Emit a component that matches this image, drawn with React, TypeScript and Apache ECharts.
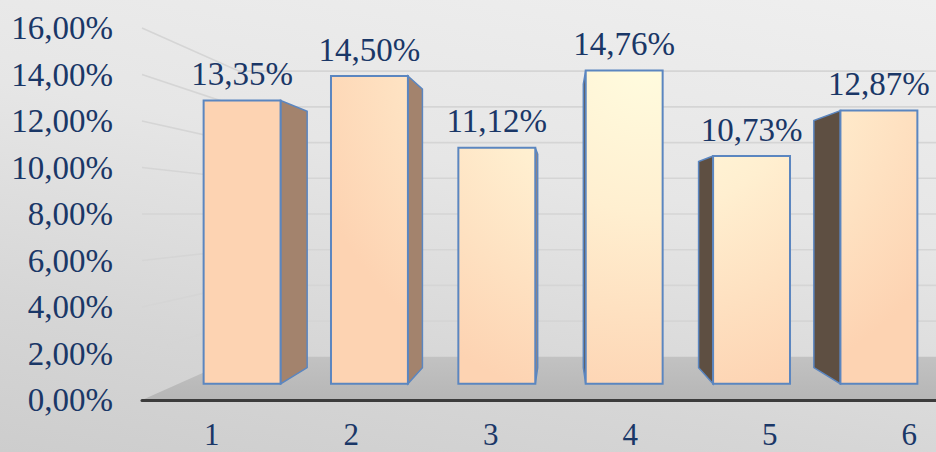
import React, { useEffect, useRef } from "react";
import * as echarts from "echarts";

const categories = ["1", "2", "3", "4", "5", "6"];
const values = [13.35, 14.5, 11.12, 14.76, 10.73, 12.87];
const yTicks = [0, 2, 4, 6, 8, 10, 12, 14, 16];

const fmt = (v: number) => v.toFixed(2).replace(".", ",") + "%";

// perspective plane scales (relative to the axis/front plane)
const BAR_FRONT = 0.913;
const BAR_DEPTH = 0.905;
const WALL = 0.768;
const BAR_HALF = 0.302; // half bar width as fraction of band

const FONT = "'Liberation Serif', 'DejaVu Serif', serif";
const TEXT = "#1a3767";
const FS = 33;

export default function App() {
  const ref = useRef<HTMLDivElement>(null);
  useEffect(() => {
    const chart = echarts.init(ref.current!, null, { renderer: "svg" });

    const proj = (cx: number, cy: number, p: number[], k: number) => [
      cx + k * (p[0] - cx),
      cy + k * (p[1] - cy),
    ];

    const renderWalls = (params: any, api: any) => {
      const cs = params.coordSys;
      const cx = cs.x + cs.width / 2;
      const cy = cs.y + cs.height / 2;
      const left = cs.x;
      const far = cs.x + cs.width + 300;
      const children: any[] = [];
      const y0 = api.coord([0, 0])[1];
      const f0 = [left, y0];
      const b0 = proj(cx, cy, f0, WALL);
      children.push({
        type: "polygon",
        shape: { points: [f0, [far, y0], [far, b0[1]], b0] },
        style: {
          fill: new echarts.graphic.LinearGradient(0, 0, 0, 1, [
            { offset: 0, color: "#c2c2c2" },
            { offset: 1, color: "#b6b6b6" },
          ]),
        },
      });
      yTicks.forEach((v) => {
        if (v === 0) return;
        const y = api.coord([0, v])[1];
        const p0 = [left, y];
        const p1 = proj(cx, cy, p0, WALL);
        children.push({
          type: "polyline",
          shape: { points: [p0, p1, [far, p1[1]]] },
          style: { stroke: "#d5d5d5", lineWidth: 1.6, fill: null },
        });
      });
      return { type: "group", children };
    };

    const frontFill = new echarts.graphic.RadialGradient(
      650,
      50,
      360,
      [
        { offset: 0, color: "#fffde0" },
        { offset: 0.45, color: "#ffefd0" },
        { offset: 1, color: "#fdd3b2" },
      ],
      true
    );

    const renderBar = (params: any, api: any) => {
      const cs = params.coordSys;
      const cx = cs.x + cs.width / 2;
      const cy = cs.y + cs.height / 2;
      const i = api.value(0);
      const v = api.value(1);
      const top = api.coord([i, v]);
      const bot = api.coord([i, 0]);
      const band = api.size([1, 0])[0];
      const hw = band * BAR_HALF;
      const P = (p: number[], k: number) => proj(cx, cy, p, k);
      const ftl = P([top[0] - hw, top[1]], BAR_FRONT);
      const ftr = P([top[0] + hw, top[1]], BAR_FRONT);
      const fbl = P([bot[0] - hw, bot[1]], BAR_FRONT);
      const fbr = P([bot[0] + hw, bot[1]], BAR_FRONT);
      const children: any[] = [];
      if (ftr[0] < cx) {
        const btr = P(ftr, BAR_DEPTH);
        const bbr = P(fbr, BAR_DEPTH);
        children.push({
          type: "polygon",
          shape: { points: [ftr, btr, bbr, fbr] },
          style: { fill: "#a3836d", stroke: "#5b86c0", lineWidth: 1.5 },
        });
      } else if (ftl[0] > cx) {
        const btl = P(ftl, BAR_DEPTH);
        const bbl = P(fbl, BAR_DEPTH);
        children.push({
          type: "polygon",
          shape: { points: [ftl, btl, bbl, fbl] },
          style: { fill: "#5e4f42", stroke: "#5b86c0", lineWidth: 1.5 },
        });
      }
      children.push({
        type: "polygon",
        shape: { points: [ftl, ftr, fbr, fbl] },
        style: { fill: frontFill, stroke: "#5b86c0", lineWidth: 2 },
      });
      children.push({
        type: "text",
        x: (ftl[0] + ftr[0]) / 2,
        y: ftl[1] - 10,
        style: {
          text: fmt(v),
          fill: TEXT,
          font: `${FS}px ${FONT}`,
          align: "center",
          verticalAlign: "bottom",
        },
      });
      return { type: "group", children };
    };

    chart.setOption({
      animation: false,
      grid: { left: 142, top: 28, width: 837, height: 372, containLabel: false },
      xAxis: {
        type: "category",
        data: categories,
        z: 10,
        axisLine: { show: true, lineStyle: { color: "#3c3c3c", width: 3 } },
        axisTick: { show: false },
        axisLabel: { color: TEXT, fontFamily: FONT, fontSize: 31, margin: 19 },
        splitLine: { show: false },
      },
      yAxis: {
        type: "value",
        min: 0,
        max: 16,
        interval: 2,
        axisLine: { show: false },
        axisTick: { show: false },
        splitLine: { show: false },
        axisLabel: {
          color: TEXT,
          fontFamily: FONT,
          fontSize: FS,
          margin: 29,
          formatter: (v: number) => fmt(v),
        },
      },
      series: [
        {
          type: "custom",
          z: 1,
          silent: true,
          renderItem: renderWalls,
          data: [[0, 0]],
        },
        {
          type: "custom",
          z: 3,
          renderItem: renderBar,
          data: values.map((v, i) => [i, v]),
        },
      ],
    });
    return () => chart.dispose();
  }, []);

  return (
    <div
      style={{
        position: "fixed",
        left: 0,
        top: 0,
        width: 936,
        height: 452,
        overflow: "hidden",
        background:
          "linear-gradient(190deg, #efefef 0%, #e6e6e6 40%, #d6d6d6 75%, #cdcdcd 100%)",
      }}
    >
      <div ref={ref} style={{ width: 1000, height: 452 }} />
    </div>
  );
}
